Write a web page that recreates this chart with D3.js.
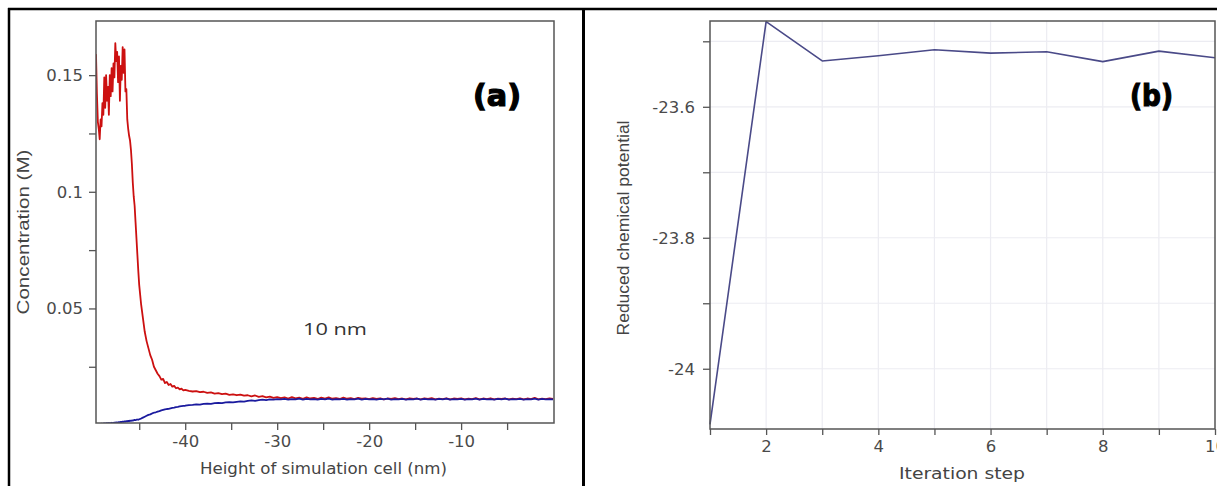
<!DOCTYPE html>
<html><head><meta charset="utf-8">
<script src="https://cdn.jsdelivr.net/npm/d3@7"></script>
<style>body{margin:0;background:#fff}svg{display:block}</style>
</head><body><svg id="c" width="1217" height="486"></svg>
<script>
// ---------- Panel (a) data: concentration vs height ----------
// sampling grid of the digitised curves (three segments with different spacing)
const gridA = [{start:-49.7, step:0.1}, {start:-44.8, step:0.2}, {start:-39.6, step:0.4}];
const redSeg1 = [0.159,0.142,0.130,0.127,0.1225,0.131,0.128,0.138,0.133,0.149,0.136,0.150,0.139,0.145,0.133,0.150,0.141,0.153,0.143,0.155,0.149,0.1637,0.156,0.160,0.147,0.158,0.139,0.154,0.148,0.162,0.151,0.161,0.143,0.144,0.131,0.127,0.124,0.122,0.118,0.112,0.104,0.098,0.094,0.087,0.080,0.073,0.066,0.060];
const redSeg2 = [0.052,0.046,0.040,0.036,0.033,0.030,0.028,0.025,0.0235,0.022,0.021,0.0195,0.0198,0.018,0.0185,0.0172,0.0176,0.0165,0.0168,0.0158,0.0161,0.0153,0.0156,0.0149,0.0151];
const redSeg3 = [0.0147,0.0144,0.0146,0.0141,0.0143,0.0138,0.0140,0.0135,0.0137,0.0133,0.0135,0.0130,0.0132,0.0128,0.0131,0.0126,0.0128,0.0123,0.0127,0.0121,0.0124,0.0119,0.0122,0.0117,0.0120,
 0.0116,0.0119,0.0114,0.0120,0.0115,0.0118,0.0113,0.0119,0.0114,0.0117,0.0112,0.0118,0.0114,0.0119,0.0113,0.0116,0.0112,0.0118,0.0113,0.0116,0.0111,0.0117,0.0113,0.0115,0.0111,
 0.0116,0.0112,0.0115,0.0110,0.0114,0.0112,0.0116,0.0111,0.0114,0.0110,0.0115,0.0112,0.0114,0.0110,0.0115,0.0112,0.0116,0.0110,0.0113,0.0111,0.0115,0.0110,0.0114,0.0112,0.0115,
 0.0110,0.0113,0.0111,0.0116,0.0110,0.0114,0.0111,0.0115,0.0110,0.0113,0.0112,0.0114,0.0110,0.0113,0.0111,0.0115,0.0110,0.0114,0.0111,0.0117,0.0110,0.0113,0.0111,0.0114,0.0112];
const blueSeg1 = [0.0003,0.0002,0.0004,0.0003,0.0005,0.0004,0.0006,0.0005,0.0006,0.0007,0.0006,0.0008,0.0007,0.0008,0.0009,0.0008,0.0009,0.0010,0.0009,0.0010,0.0011,0.0010,0.0012,0.0011,0.0012,0.0013,0.0012,0.0014,0.0013,0.0015,0.0014,0.0016,0.0015,0.0017,0.0016,0.0018,0.0017,0.0019,0.0018,0.0020,0.0019,0.0021,0.0022,0.0021,0.0023,0.0024,0.0023,0.0025];
const blueSeg2 = [0.0028,0.0032,0.0036,0.0040,0.0044,0.0046,0.0050,0.0053,0.0055,0.0058,0.0060,0.0063,0.0065,0.0067,0.0069,0.0070,0.0072,0.0074,0.0075,0.0077,0.0078,0.0080,0.0081,0.0082,0.0083];
const blueSeg3 = [0.0086,0.0087,0.0089,0.0088,0.0091,0.0092,0.0091,0.0094,0.0095,0.0094,0.0097,0.0098,0.0097,0.0100,0.0102,0.0101,0.0104,0.0106,0.0104,0.0107,0.0109,0.0107,0.0110,0.0109,0.0111,
 0.0110,0.0112,0.0109,0.0111,0.0110,0.0113,0.0109,0.0112,0.0110,0.0111,0.0109,0.0112,0.0110,0.0113,0.0109,0.0111,0.0110,0.0112,0.0109,0.0111,0.0110,0.0113,0.0109,0.0112,0.0110,
 0.0111,0.0109,0.0112,0.0110,0.0113,0.0109,0.0111,0.0110,0.0112,0.0109,0.0111,0.0110,0.0113,0.0109,0.0112,0.0110,0.0111,0.0109,0.0112,0.0110,0.0113,0.0109,0.0111,0.0110,0.0112,
 0.0109,0.0111,0.0110,0.0113,0.0109,0.0112,0.0110,0.0111,0.0109,0.0112,0.0110,0.0113,0.0109,0.0111,0.0110,0.0112,0.0109,0.0111,0.0110,0.0113,0.0109,0.0112,0.0110,0.0111,0.0110];
const aYTicks = [0.025,0.05,0.075,0.1,0.125,0.15];
const aYLabels = {"0.05":"0.05","0.1":"0.1","0.15":"0.15"};
const aXTicks = [-45,-40,-35,-30,-25,-20,-15,-10,-5];
const aXLabels = {"-40":"-40","-30":"-30","-20":"-20","-10":"-10"};

// ---------- Panel (b) data: reduced chemical potential vs iteration ----------
const steps = [1,2,3,4,5,6,7,8,9,10];
const mu = [-24.085,-23.470,-23.530,-23.522,-23.513,-23.518,-23.516,-23.531,-23.515,-23.525];
const bYTicks = [-24,-23.9,-23.8,-23.7,-23.6,-23.5];
const bYLabels = {"-24":"-24","-23.8":"-23.8","-23.6":"-23.6"};
const bXTicks = [1,2,3,4,5,6,7,8,9,10];
const bXLabels = {"2":"2","4":"4","6":"6","8":"8","10":"10"};

// ---------- build series ----------
function buildSeries(segs){
  const out=[];
  segs.forEach((vals,k)=>{
    vals.forEach((v,i)=>out.push({h:+(gridA[k].start+i*gridA[k].step).toFixed(2), v}));
  });
  return out;
}
const red = buildSeries([redSeg1,redSeg2,redSeg3]);
const blue = buildSeries([blueSeg1,blueSeg2,blueSeg3]);

const svg = d3.select("#c");
const tickFont = "DejaVu Sans, Verdana, sans-serif";
const tickColor = "#4a4a4a";

// outer frame
svg.append("line").attr("x1",8).attr("x2",1217).attr("y1",9).attr("y2",9).attr("stroke","#000").attr("stroke-width",2.5);
svg.append("line").attr("x1",9).attr("x2",9).attr("y1",8).attr("y2",486).attr("stroke","#000").attr("stroke-width",2.5);
svg.append("line").attr("x1",583.5).attr("x2",583.5).attr("y1",8).attr("y2",486).attr("stroke","#000").attr("stroke-width",3);

function styleAxis(g){
  g.select(".domain").remove();
  g.selectAll(".tick line").attr("stroke","#555").attr("stroke-width",1.3);
  g.selectAll(".tick text").attr("fill",tickColor).style("font-family",tickFont).style("font-size","16.5px");
}

// ---------- Panel (a) ----------
const ax = d3.scaleLinear().domain([-49.7,0.1]).range([96,554]);
const ay = d3.scaleLinear().domain([0.0009,0.1732]).range([423,21]);
svg.append("defs").append("clipPath").attr("id","clipA").append("rect")
  .attr("x",96).attr("y",21).attr("width",458).attr("height",402);

svg.append("g").attr("transform","translate(96,0)")
  .call(d3.axisLeft(ay).tickValues(aYTicks).tickSize(7).tickPadding(6).tickFormat(d=>aYLabels[String(d)]||""))
  .call(styleAxis);
svg.append("g").attr("transform","translate(0,423)")
  .call(d3.axisBottom(ax).tickValues(aXTicks).tickSize(7).tickPadding(5).tickFormat(d=>aXLabels[String(d)]||""))
  .call(styleAxis);

const lineA = d3.line().x(d=>ax(d.h)).y(d=>ay(d.v));
const gA = svg.append("g").attr("clip-path","url(#clipA)");
gA.append("path").datum(red).attr("d",lineA).attr("fill","none").attr("stroke","#cc1010").attr("stroke-width",1.8).attr("stroke-linejoin","round");
gA.append("path").datum(blue).attr("d",lineA).attr("fill","none").attr("stroke","#1a1a9e").attr("stroke-width",1.8).attr("stroke-linejoin","round");

svg.append("rect").attr("x",96).attr("y",21).attr("width",458).attr("height",402)
  .attr("fill","none").attr("stroke","#555").attr("stroke-width",1.5);

svg.append("text").attr("transform","translate(29,232) rotate(-90)").attr("text-anchor","middle")
  .attr("textLength",165).attr("lengthAdjust","spacingAndGlyphs")
  .style("font-family","Liberation Sans Narrow, Liberation Sans, Arial, sans-serif").style("font-size","17px").attr("fill","#444")
  .text("Concentration (M)");
svg.append("text").attr("x",323.5).attr("y",474).attr("text-anchor","middle")
  .attr("textLength",247).attr("lengthAdjust","spacingAndGlyphs")
  .style("font-family",tickFont).style("font-size","16px").attr("fill","#444")
  .text("Height of simulation cell (nm)");
svg.append("text").attr("x",303).attr("y",335).attr("textLength",64).attr("lengthAdjust","spacingAndGlyphs")
  .style("font-family","Open Sans, sans-serif").style("font-size","17px").attr("fill","#333").text("10 nm");
svg.append("text").attr("x",473).attr("y",106).attr("textLength",48).attr("lengthAdjust","spacingAndGlyphs")
  .style("font-family","DejaVu Sans, sans-serif").style("font-weight","900").style("font-size","30px")
  .attr("fill","#000").attr("stroke","#000").attr("stroke-width",1.2).text("(a)");

// ---------- Panel (b) ----------
const bx = d3.scaleLinear().domain([1,10]).range([710,1215]);
const by = d3.scaleLinear().domain([-24.092,-23.469]).range([429,21]);

const grid = svg.append("g");
grid.selectAll("line.v").data(bXTicks.slice(1,-1)).join("line")
  .attr("x1",d=>bx(d)).attr("x2",d=>bx(d)).attr("y1",21).attr("y2",429).attr("stroke","#ececf2").attr("stroke-width",1.2);
grid.selectAll("line.h").data(bYTicks).join("line")
  .attr("x1",710).attr("x2",1215).attr("y1",d=>by(d)).attr("y2",d=>by(d)).attr("stroke","#ececf2").attr("stroke-width",1.2);

svg.append("g").attr("transform","translate(710,0)")
  .call(d3.axisLeft(by).tickValues(bYTicks).tickSize(7).tickPadding(8).tickFormat(d=>bYLabels[String(+d.toFixed(1))]||""))
  .call(styleAxis);
svg.append("g").attr("transform","translate(0,429)")
  .call(d3.axisBottom(bx).tickValues(bXTicks).tickSize(6).tickPadding(5).tickFormat(d=>bXLabels[String(d)]||""))
  .call(styleAxis);

const lineB = d3.line().x((d,i)=>bx(steps[i])).y(d=>by(d));
svg.append("path").datum(mu).attr("d",lineB).attr("fill","none").attr("stroke","#4a4a88").attr("stroke-width",1.6).attr("stroke-linejoin","round");

svg.append("rect").attr("x",710).attr("y",21).attr("width",505).attr("height",408)
  .attr("fill","none").attr("stroke","#555").attr("stroke-width",1.5);

svg.append("text").attr("transform","translate(629,228) rotate(-90)").attr("text-anchor","middle")
  .attr("textLength",215).attr("lengthAdjust","spacingAndGlyphs")
  .style("font-family","Liberation Sans Narrow, Liberation Sans, Arial, sans-serif").style("font-size","17px").attr("fill","#444")
  .text("Reduced chemical potential");
svg.append("text").attr("x",962).attr("y",479).attr("text-anchor","middle")
  .attr("textLength",126).attr("lengthAdjust","spacingAndGlyphs")
  .style("font-family",tickFont).style("font-size","16px").attr("fill","#444")
  .text("Iteration step");
svg.append("text").attr("x",1130).attr("y",106).attr("textLength",43).attr("lengthAdjust","spacingAndGlyphs")
  .style("font-family","DejaVu Sans, sans-serif").style("font-weight","900").style("font-size","30px")
  .attr("fill","#000").attr("stroke","#000").attr("stroke-width",1.2).text("(b)");
</script></body></html>
